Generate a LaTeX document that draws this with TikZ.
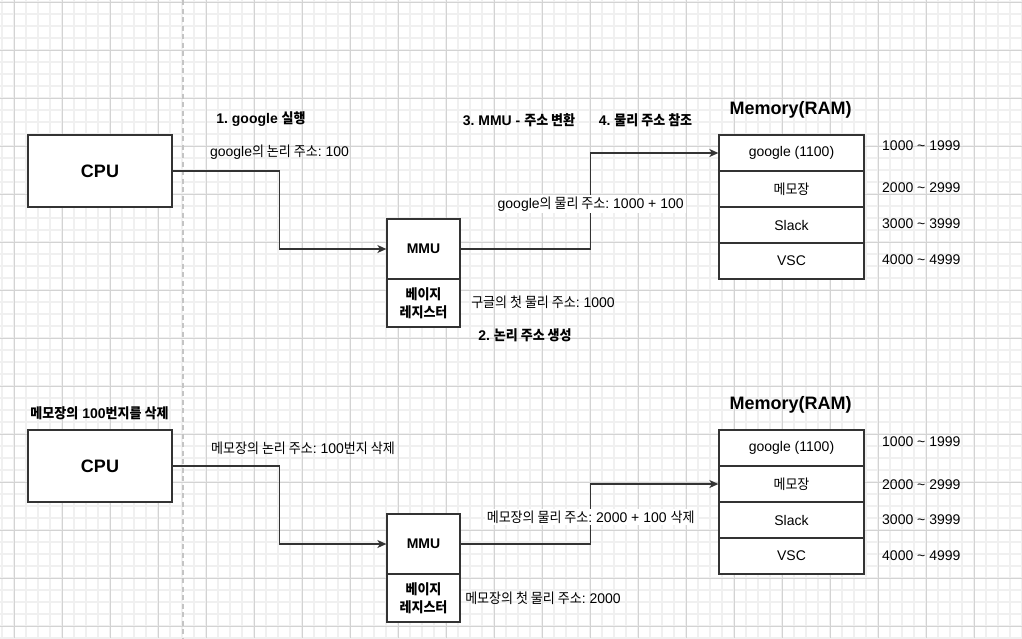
\documentclass[tikz,border=0pt]{standalone}
\usepackage{fontspec}
\setmainfont{Liberation Sans}
\newfontfamily\krfont{Noto Sans CJK KR}[Scale=1.0,FakeStretch=0.93]
\usetikzlibrary{arrows.meta}
\newcommand\K[1]{{\krfont #1}}
\definecolor{gridminor}{HTML}{F0F0F0}
\definecolor{gridmajor}{HTML}{D3D3D3}
\definecolor{ln}{HTML}{333333}
\definecolor{dashc}{HTML}{C4C4C4}
\begin{document}
\frenchspacing
\begin{tikzpicture}[x=1pt,y=-1pt,
  box/.style={draw=ln,line width=1.3pt,fill=white,inner sep=0pt,align=center,font=\fontsize{14}{18}\selectfont},
  bigbox/.style={box,font=\fontsize{18}{20}\selectfont\bfseries},
  bbox/.style={box,font=\fontsize{14}{18}\selectfont\bfseries},
  txt/.style={inner sep=0pt,font=\fontsize{14}{16}\selectfont},
  btxt/.style={inner sep=0pt,font=\fontsize{14}{16}\selectfont\bfseries},
  title/.style={inner sep=0pt,font=\fontsize{18}{20}\selectfont\bfseries},
  elbl/.style={fill=white,inner sep=2pt,font=\fontsize{14}{16}\selectfont},
  arr/.style={draw=ln,line width=1.3pt,-{Stealth[length=9pt,width=8pt,inset=2.5pt]}},
  minorline/.style={draw=gridminor,line width=1.5pt},
  majorline/.style={draw=gridmajor,line width=0.9pt},
  dashline/.style={draw=dashc,line width=1.6pt,dash pattern=on 5pt off 3.5pt}
]
\useasboundingbox (0,0) rectangle (1022,638);
\fill[white] (0,0) rectangle (1022,638);
% grid
\foreach \i in {0,...,85} \draw[minorline] (2+12*\i,0) -- (2+12*\i,638);
\foreach \j in {0,...,53} \draw[minorline] (0,2+12*\j) -- (1022,2+12*\j);
\foreach \i in {0,...,21} \draw[majorline] (14+48*\i,0) -- (14+48*\i,638);
\foreach \j in {0,...,13} \draw[majorline] (0,2+48*\j) -- (1022,2+48*\j);
\draw[dashline] (183,0) -- (183,638);

% ---------- top diagram ----------
\node[bigbox,minimum width=144pt,minimum height=72pt] (cpu1) at (100,171) {CPU};
\node[bbox,minimum width=73pt,minimum height=60pt] (mmu1) at (423.5,249) {MMU};
\node[bbox,minimum width=73pt,minimum height=48pt] (br1) at (423.5,303) {\K{베이지}\\\K{레지스터}};

\node[box,minimum width=145pt,minimum height=36pt] (g1) at (791.5,153) {google (1100)};
\node[box,minimum width=145pt,minimum height=36pt] (n1) at (791.5,189) {\K{메모장}};
\node[box,minimum width=145pt,minimum height=36pt] (s1) at (791.5,225) {Slack};
\node[box,minimum width=145pt,minimum height=36pt] (v1) at (791.5,261) {VSC};

\node[title] (memt1) at (790.5,110) {Memory(RAM)};
\node[btxt] (st1) at (261,119) {1. google \K{실행}};
\node[btxt] (st3) at (519,120) {3. MMU - \K{주소 변환}};
\node[btxt] (st4) at (645.5,120) {4. \K{물리 주소 참조}};
\node[btxt] (st2) at (525,335) {2. \K{논리 주소 생성}};
\node[txt] (la1) at (279.5,152) {google\K{의 논리 주소}: 100};
\node[txt] (ba1) at (543,302) {\K{구글의 첫 물리 주소}: 1000};

\node[txt,anchor=west] (r11) at (882,146) {1000 \textasciitilde{} 1999};
\node[txt,anchor=west] (r12) at (882,188) {2000 \textasciitilde{} 2999};
\node[txt,anchor=west] (r13) at (882,224) {3000 \textasciitilde{} 3999};
\node[txt,anchor=west] (r14) at (882,260) {4000 \textasciitilde{} 4999};

\draw[arr] (cpu1.east) -- ++(107,0) |- (mmu1.west);
\draw[arr] (mmu1.east) -- ++(130,0) |- node[elbl,pos=0.234] (pa1) {google\K{의 물리 주소}: 1000 + 100} (g1.west);

% ---------- bottom diagram ----------
\node[bigbox,minimum width=144pt,minimum height=72pt] (cpu2) at (100,466) {CPU};
\node[bbox,minimum width=73pt,minimum height=60pt] (mmu2) at (423.5,544) {MMU};
\node[bbox,minimum width=73pt,minimum height=48pt] (br2) at (423.5,598) {\K{베이지}\\\K{레지스터}};

\node[box,minimum width=145pt,minimum height=36pt] (g2) at (791.5,448) {google (1100)};
\node[box,minimum width=145pt,minimum height=36pt] (n2) at (791.5,484) {\K{메모장}};
\node[box,minimum width=145pt,minimum height=36pt] (s2) at (791.5,520) {Slack};
\node[box,minimum width=145pt,minimum height=36pt] (v2) at (791.5,556) {VSC};

\node[title] (memt2) at (790.5,405) {Memory(RAM)};
\node[btxt] (del) at (99.5,413) {\K{메모장의} 100\K{번지를 삭제}};
\node[txt] (la2) at (303,448) {\K{메모장의 논리 주소}: 100\K{번지 삭제}};
\node[txt] (ba2) at (543,598) {\K{메모장의 첫 물리 주소}: 2000};

\node[txt,anchor=west] (r21) at (882,442) {1000 \textasciitilde{} 1999};
\node[txt,anchor=west] (r22) at (882,485) {2000 \textasciitilde{} 2999};
\node[txt,anchor=west] (r23) at (882,520) {3000 \textasciitilde{} 3999};
\node[txt,anchor=west] (r24) at (882,556) {4000 \textasciitilde{} 4999};

\draw[arr] (cpu2.east) -- ++(107,0) |- (mmu2.west);
\draw[arr] (mmu2.east) -- ++(130,0) |- node[elbl,pos=0.225] (pa2) {\K{메모장의 물리 주소}: 2000 + 100 \K{삭제}} (n2.west);
\end{tikzpicture}
\end{document}
